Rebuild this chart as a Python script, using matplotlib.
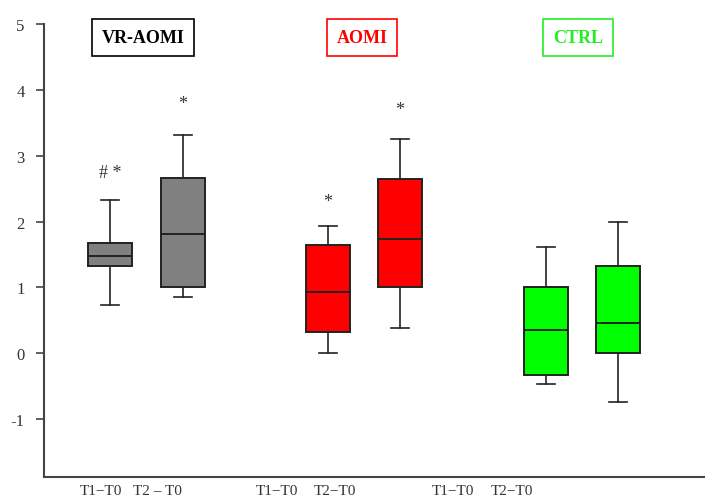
import matplotlib
matplotlib.use("Agg")
import matplotlib.pyplot as plt

# ---- data ----
groups = ["VR-AOMI", "AOMI", "CTRL"]
conditions = ["T1\u2212T0", "T2 \u2013 T0", "T1\u2212T0", "T2\u2212T0", "T1\u2212T0", "T2\u2212T0"]
whisk_low = [0.73, 0.86, 0.00, 0.38, -0.47, -0.74]
q1 = [1.32, 1.00, 0.32, 1.00, -0.33, 0.00]
median = [1.48, 1.81, 0.93, 1.73, 0.36, 0.46]
q3 = [1.67, 2.66, 1.65, 2.65, 1.00, 1.32]
whisk_high = [2.32, 3.32, 1.93, 3.26, 1.61, 2.00]
marks = ["# *", "*", "*", "*", "", ""]
mark_y = [2.75, 3.80, 2.30, 3.70, None, None]

# ---- style / layout ----
box_colors = ["#808080", "#808080", "#ff0000", "#ff0000", "#00ff00", "#00ff00"]
label_colors = ["#000000", "#ff0000", "#22ee22"]
positions = [110, 183, 328, 400, 546, 618]
tick_pos = [101, 157, 277, 335, 453, 512]
label_x = [143, 362, 578]
label_y = 4.80

serif = ["Liberation Serif", "DejaVu Serif"]

fig = plt.figure(figsize=(7.05, 5.02), dpi=100)
ax = fig.add_axes([44 / 705, 24 / 502, 1 - 44 / 705, (478 - 25) / 502])

stats = []
for i in range(len(positions)):
    stats.append(dict(med=median[i], q1=q1[i], q3=q3[i],
                      whislo=whisk_low[i], whishi=whisk_high[i], fliers=[]))

bp = ax.bxp(stats, positions=positions, widths=44, patch_artist=True,
            showfliers=False, manage_ticks=False,
            boxprops=dict(linewidth=1.4, edgecolor="#222222"),
            medianprops=dict(color="#222222", linewidth=1.4),
            whiskerprops=dict(color="#222222", linewidth=1.2),
            capprops=dict(color="#222222", linewidth=1.2),
            capwidths=18)
for patch, c in zip(bp["boxes"], box_colors):
    patch.set_facecolor(c)

for p, m, y in zip(positions, marks, mark_y):
    if m:
        ax.text(p, y, m, ha="center", va="center", fontsize=13,
                color="#333333", family=serif)

for x, g, c in zip(label_x, groups, label_colors):
    ax.text(x, label_y, g, ha="center", va="center", fontsize=13,
            fontweight="bold", color=c, family=serif,
            bbox=dict(boxstyle="square,pad=0.55", facecolor="white",
                      edgecolor=c, linewidth=1.2))

ax.set_xlim(44, 705)
ax.set_ylim(-1.88, 5)
ax.set_yticks([-1, 0, 1, 2, 3, 4, 5])
ax.set_yticklabels(["-1", "0", "1", "2", "3", "4", "5"], family=serif, fontsize=12,
                   color="#333333")
ax.tick_params(axis="y", length=6, width=1.2, color="#444444", pad=8)
ax.set_xticks(tick_pos)
ax.set_xticklabels(conditions, family=serif, fontsize=11, color="#333333")
ax.tick_params(axis="x", length=0, pad=5)

for s in ["top", "right"]:
    ax.spines[s].set_visible(False)
for s in ["left", "bottom"]:
    ax.spines[s].set_linewidth(1.5)
    ax.spines[s].set_color("#444444")

fig.savefig("out.png", dpi=100)
